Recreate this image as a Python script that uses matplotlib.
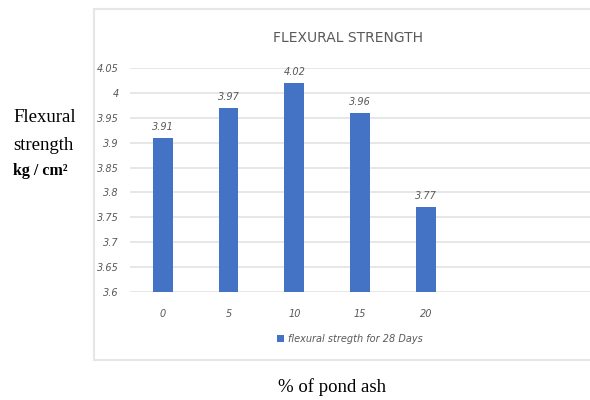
import matplotlib.pyplot as plt
from matplotlib.patches import Rectangle

# data
categories = ['0', '5', '10', '15', '20']
strength = [3.91, 3.97, 4.02, 3.96, 3.77]
yticks = [3.6, 3.65, 3.7, 3.75, 3.8, 3.85, 3.9, 3.95, 4.0, 4.05]
ytick_labels = ['3.6', '3.65', '3.7', '3.75', '3.8', '3.85', '3.9', '3.95', '4', '4.05']

fig = plt.figure(figsize=(5.9, 4.0), dpi=100)

# outer chart frame
fig.patches.append(Rectangle((94 / 590, 1 - 360 / 400), 500 / 590, 351 / 400,
                             transform=fig.transFigure, facecolor='white',
                             edgecolor='#e6e6e6', linewidth=1.5, zorder=-5))

ax = fig.add_axes([130 / 590, 1 - 292 / 400, 460 / 590, 224 / 400])
ax.set_facecolor('none')

x = list(range(len(categories)))
bars = ax.bar(x, strength, width=0.3, color='#4472c4', zorder=3,
              label='flexural stregth for 28 Days')

ax.set_xlim(-0.5, 6.5)
ax.set_ylim(3.6, 4.05)
ax.set_yticks(yticks)
ax.set_yticklabels(ytick_labels)
ax.set_xticks(x)
ax.set_xticklabels(categories)
ax.grid(axis='y', color='#e3e3e3', linewidth=1.2, zorder=0)
for s in ax.spines.values():
    s.set_visible(False)
ax.tick_params(length=0, labelsize=7, labelcolor='#595959')
ax.tick_params(axis='x', pad=12)
ax.tick_params(axis='y', pad=8)
for lab in ax.get_xticklabels() + ax.get_yticklabels():
    lab.set_style('italic')

for xi, v in zip(x, strength):
    ax.text(xi, v + 0.012, f'{v:g}', ha='center', va='bottom',
            fontsize=7, style='italic', color='#595959')

fig.text(348 / 590, 1 - 38 / 400, 'FLEXURAL STRENGTH', ha='center', va='center',
         fontsize=10, color='#595959', family='DejaVu Sans')

leg = fig.legend(handles=[bars], loc='center', bbox_to_anchor=(350 / 590, 1 - 339 / 400),
                 frameon=False, fontsize=7, handlelength=0.7, handleheight=0.7,
                 handletextpad=0.4)
for t in leg.get_texts():
    t.set_style('italic')
    t.set_color('#595959')

serif = 'Liberation Serif'
fig.text(13 / 590, 1 - 117 / 400, 'Flexural', fontsize=13.5, family=serif, va='center')
fig.text(13 / 590, 1 - 145 / 400, 'strength', fontsize=13.5, family=serif, va='center')
fig.text(13 / 590, 1 - 171 / 400, 'kg / cm²', fontsize=11.5, family=serif,
         weight='bold', va='center')
fig.text(332 / 590, 1 - 387 / 400, '% of pond ash', fontsize=13.5, family=serif,
         ha='center', va='center')

fig.savefig('out.png', dpi=100)
